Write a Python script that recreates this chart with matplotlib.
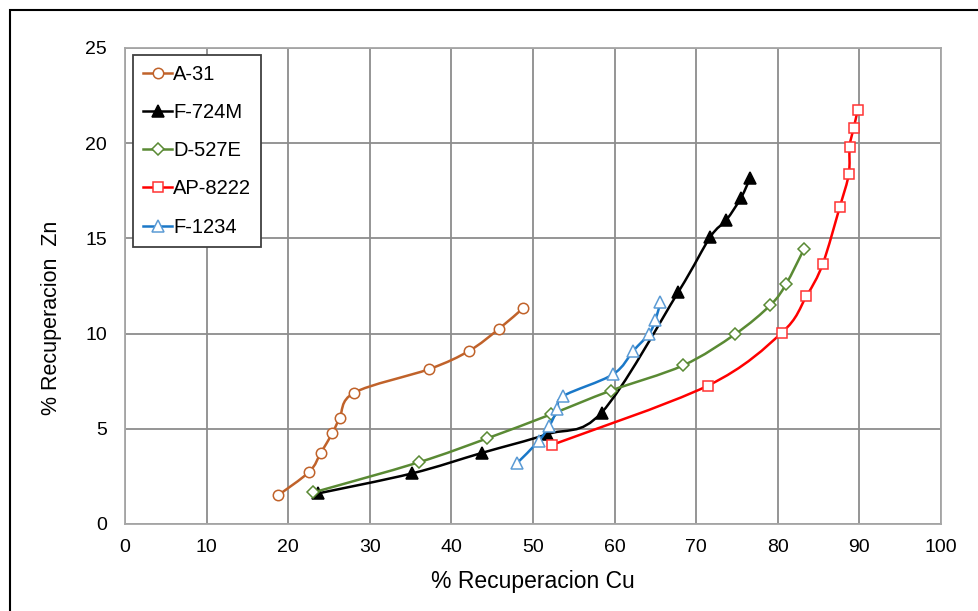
import numpy as np
import matplotlib
matplotlib.use("Agg")
import matplotlib.pyplot as plt
from matplotlib.path import Path
from matplotlib.patches import PathPatch, Rectangle
from matplotlib.lines import Line2D

plt.rcParams['font.family'] = ['Liberation Sans', 'DejaVu Sans']

# % recovery of Cu (x) and Zn (y) for each collector
a31_cu = [18.8, 22.6, 24.0, 25.4, 26.3, 28.1, 37.3, 42.2, 45.8, 48.8]
a31_zn = [1.52, 2.75, 3.74, 4.76, 5.55, 6.90, 8.14, 9.10, 10.24, 11.34]

f724m_cu = [23.7, 35.2, 43.7, 51.7, 58.4, 67.8, 71.7, 73.7, 75.5, 76.6]
f724m_zn = [1.61, 2.66, 3.73, 4.71, 5.85, 12.18, 15.06, 15.97, 17.14, 18.16]

d527e_cu = [23.1, 36.0, 44.4, 52.2, 59.5, 68.4, 74.8, 79.1, 81.0, 83.2]
d527e_zn = [1.66, 3.24, 4.50, 5.76, 7.00, 8.33, 9.98, 11.50, 12.59, 14.43]

ap8222_cu = [52.3, 71.4, 80.5, 83.5, 85.5, 87.6, 88.7, 88.8, 89.3, 89.8]
ap8222_zn = [4.15, 7.26, 10.05, 11.96, 13.65, 16.66, 18.38, 19.82, 20.80, 21.74]

f1234_cu = [48.1, 50.7, 52.0, 53.0, 53.7, 59.8, 62.3, 64.2, 65.0, 65.6]
f1234_zn = [3.22, 4.36, 5.15, 6.02, 6.72, 7.86, 9.10, 9.98, 10.71, 11.64]

x_ticks = list(range(0, 101, 10))
y_ticks = list(range(0, 26, 5))


def smooth_path(xs, ys):
    """Cubic Bezier path through the points (spreadsheet-style smoothed line)."""
    p = np.column_stack([xs, ys]).astype(float)
    n = len(p)
    verts = [p[0]]
    codes = [Path.MOVETO]
    for i in range(n - 1):
        p0 = p[i - 1] if i > 0 else p[i]
        p1 = p[i]
        p2 = p[i + 1]
        p3 = p[i + 2] if i + 2 < n else p[i + 1]
        c1 = p1 + (p2 - p0) / 6.0
        c2 = p2 - (p3 - p1) / 6.0
        verts += [c1, c2, p2]
        codes += [Path.CURVE4] * 3
    return Path(verts, codes)


series = [
    ("A-31", a31_cu, a31_zn, "#C0622A", "o", "white", "#C0622A", 7.5),
    ("F-724M", f724m_cu, f724m_zn, "#000000", "^", "#000000", "#000000", 8.5),
    ("D-527E", d527e_cu, d527e_zn, "#5A8A34", "D", "white", "#5A8A34", 6.5),
    ("AP-8222", ap8222_cu, ap8222_zn, "#FF0000", "s", "white", "#FF3333", 7.5),
    ("F-1234", f1234_cu, f1234_zn, "#1A78C8", "^", "white", "#5B9BD5", 9),
]

fig = plt.figure(figsize=(9.79, 6.11), dpi=100)
W, H = 979, 611
ax = fig.add_axes([125 / W, 1 - 524 / H, (941 - 125) / W, (524 - 48) / H])

handles = []
for z, (name, xs, ys, col, mk, mfc, mec, ms) in enumerate(series):
    patch = PathPatch(smooth_path(xs, ys), facecolor="none", edgecolor=col,
                      lw=1.8, zorder=3 + z, capstyle="round", joinstyle="round")
    ax.add_patch(patch)
    ax.plot(xs, ys, ls="none", marker=mk, ms=ms, mfc=mfc, mec=mec, mew=1.1,
            zorder=3.5 + z)
    handles.append(Line2D([], [], color=col, lw=1.8, marker=mk, ms=ms,
                          mfc=mfc, mec=mec, mew=1.1))

ax.set_xlim(0, 100)
ax.set_ylim(0, 25)
ax.set_xticks(x_ticks)
ax.set_yticks(y_ticks)
ax.grid(True, color="#8C8C8C", lw=1.3, zorder=0)
ax.set_axisbelow(True)
for sp in ax.spines.values():
    sp.set_color("#A6A6A6")
    sp.set_linewidth(1.3)
ax.tick_params(length=0, labelsize=14, colors="black")
ax.tick_params(axis="x", pad=11)
ax.tick_params(axis="y", pad=13)

ax.set_xlabel("% Recuperacion Cu", fontsize=16.5, labelpad=10)
ax.set_ylabel("% Recuperacion  Zn", fontsize=15.5)
ax.yaxis.set_label_coords(-63 / 816, (524 - 318) / 476)

leg = ax.legend(handles, [s[0] for s in series], loc="upper left",
                bbox_to_anchor=(8 / 816, 1 - 7 / 476), fontsize=14.5,
                handlelength=1.45, handletextpad=0.05, labelspacing=0.95,
                borderpad=0.5, borderaxespad=0, fancybox=False, framealpha=1,
                edgecolor="#404040")
leg.get_frame().set_linewidth(1.3)
leg.set_zorder(20)

# outer chart frame
fig.add_artist(Rectangle((10 / W, -0.1), 1.2, 1 - 10 / H + 0.1,
                         transform=fig.transFigure, fill=False,
                         edgecolor="black", lw=1.5))

fig.savefig("out.png", dpi=100)
